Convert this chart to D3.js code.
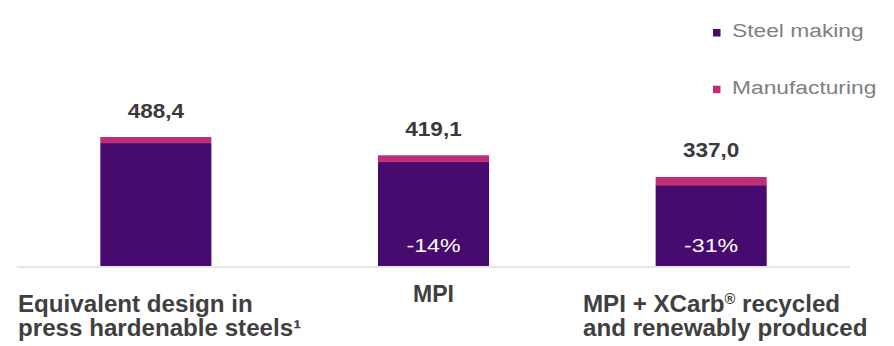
<!DOCTYPE html>
<html>
<head>
<meta charset="utf-8">
<script src="https://cdn.jsdelivr.net/npm/d3@7"></script>
<style>
  body { margin: 0; background: #fff; }
  text { font-family: "Liberation Sans", Arial, sans-serif; }
</style>
</head>
<body>
<svg id="chart" width="894" height="346"></svg>
<script>
// data
var categories = ["equiv", "mpi", "xcarb"];
var steelMaking = [465.4, 394.1, 306.0];
var manufacturing = [23.0, 25.0, 31.0];
var totals = ["488,4", "419,1", "337,0"];
var deltas = [null, "-14%", "-31%"];
var seriesNames = ["Steel making", "Manufacturing"];

var width = 894, height = 346;
var colors = ["#470a6f", "#c12d74"];

var svg = d3.select("#chart");

var x = d3.scaleBand()
    .domain(categories)
    .range([17, 850])
    .paddingInner(0.6)
    .paddingOuter(0.3);

var y = d3.scaleLinear()
    .domain([0, 488.4])
    .range([266, 137]);

// stacked data
var rows = categories.map(function(c, i) {
    return { cat: c, steel: steelMaking[i], manu: manufacturing[i] };
});
var stack = d3.stack().keys(["steel", "manu"]);
var series = stack(rows);

// baseline
svg.append("line")
    .attr("x1", x.range()[0]).attr("x2", x.range()[1])
    .attr("y1", y(0) + 1).attr("y2", y(0) + 1)
    .attr("stroke", "#e6e6e6")
    .attr("stroke-width", 2);

svg.append("g").selectAll("g")
    .data(series)
    .enter().append("g")
    .attr("fill", function(d, i) { return colors[i]; })
    .selectAll("rect")
    .data(function(d) { return d; })
    .enter().append("rect")
    .attr("x", function(d) { return x(d.data.cat); })
    .attr("width", x.bandwidth())
    .attr("y", function(d) { return y(d[1]); })
    .attr("height", function(d) { return y(d[0]) - y(d[1]); });

// helper for slightly stretched text
function stretchText(g, tx, ty, sx, str) {
    return g.append("text")
        .attr("transform", "translate(" + tx + "," + ty + ") scale(" + sx + ",1)")
        .text(str);
}

// totals above bars
var tot = svg.append("g")
    .attr("font-size", 20.5)
    .attr("font-weight", "bold")
    .attr("fill", "#3a3a3a")
    .attr("text-anchor", "middle");
rows.forEach(function(r, i) {
    var top = steelMaking[i] + manufacturing[i];
    stretchText(tot, x(r.cat) + x.bandwidth() / 2, y(top) - 19.5, 1.1, totals[i]);
});

// percentage change inside bars
var pct = svg.append("g")
    .attr("font-size", 19)
    .attr("fill", "#fff")
    .attr("text-anchor", "middle");
rows.forEach(function(r, i) {
    if (deltas[i]) stretchText(pct, x(r.cat) + x.bandwidth() / 2, 251.7, 1.22, deltas[i]);
});

// legend
var legend = svg.append("g")
    .attr("font-size", 19)
    .attr("fill", "#808080");
var legendY = [37.3, 94];
seriesNames.forEach(function(name, i) {
    legend.append("rect")
        .attr("x", 713).attr("y", legendY[i] - 8.3)
        .attr("width", 7.5).attr("height", 7.5)
        .attr("fill", colors[i]);
    stretchText(legend, 732, legendY[i], 1.2, name);
});

// category labels
var labels = svg.append("g")
    .attr("font-size", 23)
    .attr("font-weight", "bold")
    .attr("fill", "#404040");

var l1 = labels.append("text").attr("transform", "translate(18,0) scale(1.05,1)");
l1.append("tspan").attr("x", 0).attr("y", 311.7).text("Equivalent design in");
l1.append("tspan").attr("x", 0).attr("y", 335.7).text("press hardenable steels¹");

labels.append("text")
    .attr("x", x("mpi") + x.bandwidth() / 2)
    .attr("y", 301.7)
    .attr("text-anchor", "middle")
    .text("MPI");

var l3 = labels.append("text").attr("transform", "translate(583,0) scale(1.05,1)");
var t3 = l3.append("tspan").attr("x", 0).attr("y", 311.7);
t3.append("tspan").text("MPI + XCarb");
t3.append("tspan").attr("font-size", 14).attr("dy", -8).text("®");
t3.append("tspan").attr("dy", 8).text(" recycled");
l3.append("tspan").attr("x", 0).attr("y", 335.7).text("and renewably produced");
</script>
</body>
</html>
